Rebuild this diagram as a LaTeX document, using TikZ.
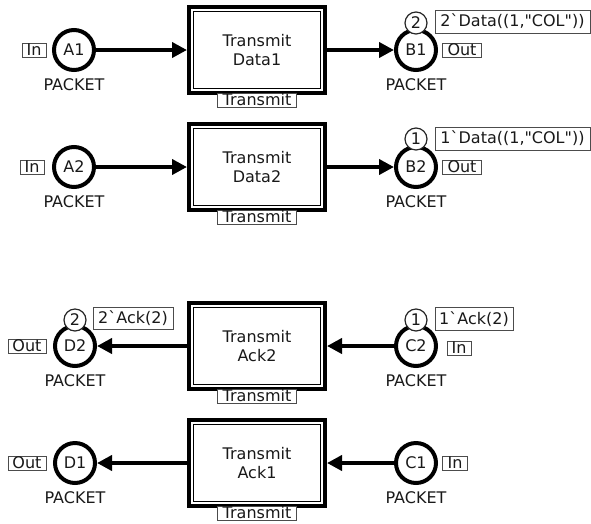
\documentclass[tikz,border=0pt]{standalone}
\usepackage{fontspec}
\setmainfont{DejaVu Sans}[Ligatures=TeXOff]
\usetikzlibrary{arrows.meta}
\begin{document}
\begin{tikzpicture}[x=1pt,y=-1pt,
  every node/.style={font=\fontsize{16}{19.5}\selectfont, text=black!90},
  place/.style={circle, draw=black, line width=4pt, minimum size=40pt, inner sep=0pt},
  token/.style={circle, draw=black!85, fill=white, line width=1.2pt, minimum size=22pt, inner sep=0pt},
  tag/.style={draw=black!70, line width=1pt, fill=white, inner sep=0pt, minimum height=14pt},
  markbox/.style={draw=black!70, line width=1pt, fill=white, inner sep=0pt, minimum height=23pt},
  trans/.style={rectangle, draw=black, line width=4pt, minimum width=136pt, minimum height=86pt},
  transin/.style={rectangle, draw=black, line width=1pt, minimum width=127pt, minimum height=77pt, align=center},
  sub/.style={draw=black!70, line width=1pt, fill=white, inner sep=0pt, minimum width=79pt, minimum height=14pt},
  arc/.style={line width=4pt, -{Triangle[length=15pt,width=15pt]}}]
\useasboundingbox (0,0) rectangle (591,523);

% substitution transitions
\foreach \n/\y/\txt in {T1/50/Data1, T2/167/Data2, T3/346/Ack2, T4/463/Ack1}{
  \node[trans] (\n) at (257,\y) {};
  \node[transin] (\n in) at (257,\y) {Transmit\\\txt};
  \node[sub] (\n sub) at (257,\y+50) {Transmit};
}

% places
\node[place] (A1) at (74,50) {A1};
\node[place] (A2) at (74,167) {A2};
\node[place] (B1) at (416,50) {B1};
\node[place] (B2) at (416,167) {B2};
\node[place] (D2) at (75,346) {D2};
\node[place] (D1) at (75,463) {D1};
\node[place] (C2) at (416,346) {C2};
\node[place] (C1) at (416,463) {C1};

% colour sets
\foreach \p in {A1,A2,B1,B2,D2,D1,C2,C1}{
  \node (\p type) at ([yshift=-35pt]\p.center) {PACKET};
}

% port tags
\node[tag, minimum width=24pt] (A1port) at (34,50) {In};
\node[tag, minimum width=24pt] (A2port) at (32,167) {In};
\node[tag, minimum width=39pt] (B1port) at (462,50) {Out};
\node[tag, minimum width=39pt] (B2port) at (462,167) {Out};
\node[tag, minimum width=38pt] (D2port) at (27,346) {Out};
\node[tag, minimum width=38pt] (D1port) at (27,463) {Out};
\node[tag, minimum width=24pt] (C2port) at (459,348) {In};
\node[tag, minimum width=25pt] (C1port) at (455,463) {In};

% arcs
\draw[arc] (A1) -- (T1);
\draw[arc] (A2) -- (T2);
\draw[arc] (T1) -- (B1);
\draw[arc] (T2) -- (B2);
\draw[arc] (C2) -- (T3);
\draw[arc] (C1) -- (T4);
\draw[arc] (T3) -- (D2);
\draw[arc] (T4) -- (D1);

% current markings
\node[token] (B1tok) at (416,23) {2};
\node[markbox, minimum width=155pt] (B1mark) at (512.5,21.5) {2\symbol{96}Data((1,\symbol{34}COL\symbol{34}))};
\node[token] (B2tok) at (416,139) {1};
\node[markbox, minimum width=155pt] (B2mark) at (512.5,138.5) {1\symbol{96}Data((1,\symbol{34}COL\symbol{34}))};
\node[token] (D2tok) at (75,320) {2};
\node[markbox, minimum width=80pt, minimum height=22pt] (D2mark) at (133,318) {2\symbol{96}Ack(2)};
\node[token] (C2tok) at (416,320) {1};
\node[markbox, minimum width=78pt] (C2mark) at (474,319) {1\symbol{96}Ack(2)};
\end{tikzpicture}
\end{document}
